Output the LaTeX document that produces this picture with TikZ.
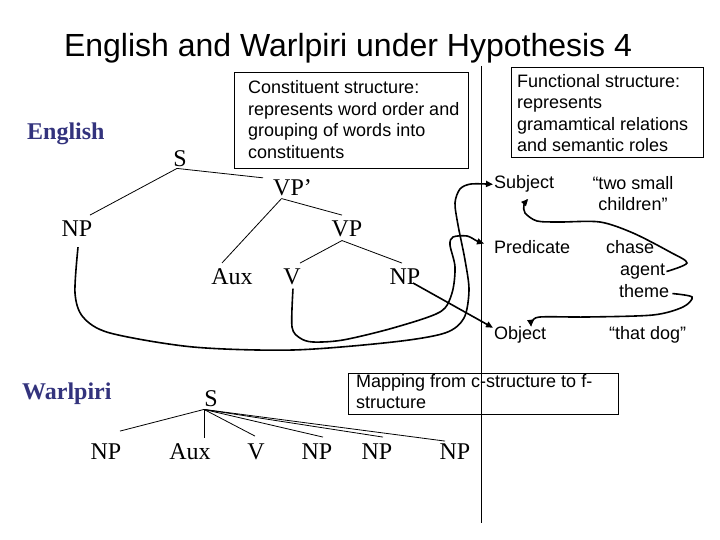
\documentclass[tikz,border=0pt]{standalone}
\usepackage{fontspec}
\setmainfont{Liberation Serif}
\newfontfamily\sansf{Liberation Sans}
\usetikzlibrary{arrows.meta}
\definecolor{langblue}{RGB}{51,51,125}
\begin{document}
\begin{tikzpicture}[x=1bp,y=-1bp,
  tlabel/.style={font=\fontsize{24bp}{28bp}\selectfont, inner sep=1bp, anchor=base},
  lang/.style={font=\bfseries\fontsize{24bp}{28bp}\selectfont, text=langblue, inner sep=0pt, anchor=base west},
  sl/.style={font=\sansf\fontsize{18bp}{21.5bp}\selectfont, inner sep=1bp, anchor=base west},
  btext/.style={font=\sansf\fontsize{18bp}{21.5bp}\selectfont, inner sep=0pt, anchor=north west, align=left},
  boxn/.style={draw, line width=0.9bp, anchor=north west, inner sep=0pt},
  tree/.style={line width=0.8bp},
  link/.style={line width=1.6bp, -{Triangle[length=7bp,width=6bp]}},
]
\fill[white] (0,0) rectangle (720,540);
\useasboundingbox (0,0) rectangle (720,540);

% title
\node[font=\sansf\fontsize{32bp}{36bp}\selectfont, anchor=base, inner sep=0pt] (title) at (348,57) {English and Warlpiri under Hypothesis 4};

% boxes
\node[boxn, minimum width=234bp, minimum height=96bp] (cbox) at (234,72) {};
\node[btext] (ctext) at (248,80.5) {Constituent structure:\\represents word order and\\grouping of words into\\constituents};
\node[boxn, minimum width=192bp, minimum height=90bp] (fbox) at (511,67) {};
\node[btext] (ftext) at (517,74) {Functional structure:\\represents\\gramamtical relations\\and semantic roles};
\node[boxn, minimum width=270bp, minimum height=41bp] (mbox) at (348,373) {};
\node[btext] (mtext) at (356,374) {Mapping from c-structure to f-\\structure};

% divider
\coordinate (divtop) at (481,66);
\coordinate (divbot) at (481,523);
\draw[line width=0.9bp] (divtop) -- (divbot);

% English tree
\node[lang] (eng) at (27,140) {English};
\node[tlabel] (s1) at (180,167) {S};
\node[tlabel, anchor=base west] (vpp) at (272,196) {VP’};
\node[tlabel] (npe) at (77,237) {NP};
\node[tlabel] (vp) at (347,237) {VP};
\node[tlabel] (aux) at (232,285) {Aux};
\node[tlabel] (v) at (292,285) {V};
\node[tlabel] (np2) at (405,285) {NP};

\draw[tree] ([shift={(-3,0)}]s1.south) -- ([shift={(13,-5)}]npe.north);
\draw[tree] ([shift={(-3,0)}]s1.south) -- ([shift={(-9,-1)}]vpp.north west);
\draw[tree] ([shift={(-11,1)}]vpp.south) -- ([shift={(-10,-5)}]aux.north);
\draw[tree] ([shift={(-11,1)}]vpp.south) -- ([shift={(-5,-5)}]vp.north);
\draw[tree] ([shift={(-5,2)}]vp.south) -- ([shift={(8,-5)}]v.north);
\draw[tree] ([shift={(-5,2)}]vp.south) -- ([shift={(-3,-5)}]np2.north);

% Warlpiri tree
\node[lang] (wal) at (22,399) {Warlpiri};
\node[tlabel] (ws) at (211,406) {S};
\node[tlabel] (wnp1) at (106,459) {NP};
\node[tlabel] (waux) at (190,459) {Aux};
\node[tlabel] (wv) at (256,459) {V};
\node[tlabel] (wnp2) at (317,459) {NP};
\node[tlabel] (wnp3) at (377,459) {NP};
\node[tlabel] (wnp4) at (455,459) {NP};
\foreach \n/\dx/\dy in {wnp1/14/-11, waux/14/-4, wv/-1/-6, wnp2/6/-5, wnp3/6/-5, wnp4/-10/-1}
  \draw[tree] ([shift={(-7,2)}]ws.south) -- ([shift={(\dx,\dy)}]\n.north);

% f-structure labels
\node[sl] (subj) at (493,189) {Subject};
\node[sl] (pred) at (493,254) {Predicate};
\node[sl] (obj) at (493,339) {Object};
\node[sl, anchor=north, align=center] (two) at (633,175) {“two small\\children”};
\node[sl] (chase) at (605,254) {chase};
\node[sl] (agent) at (619,275.5) {agent};
\node[sl] (theme) at (618,297) {theme};
\node[sl] (dog) at (608,339) {“that dog”};

% mapping arrows
\draw[link] plot[smooth] coordinates {([shift={(1,9)}]npe.south) (75,293) (83,317) (110,333) (193,347) (293,350) (393,342) (445,333) (464,318) (469,290) (465,260) (458,225) (455,203) (460,189) (471,184) (subj.west)};
\draw[link] plot[smooth] coordinates {([shift={(1,2)}]v.south) (292,327) (300,338) (313,342) (343,340) (393,328) (440,312) (452,293) (455,267) (450,245) (453,237) (467,236) (477,241) ([shift={(-9,-4)}]pred.west)};
\draw[link] ([shift={(8,-2)}]np2.base) -- ([shift={(0,3)}]obj.north west);
\draw[link] plot[smooth] coordinates {(agent.east) (687,263) (670,252) (633,233) (600,222) (560,222) (537,221) (525,213) (524,205) ([shift={(4,5)}]subj.south)};
\draw[link] plot[smooth] coordinates {([shift={(2,3)}]theme.east) (692,297) (683,307) (653,315) (587,317) (540,317) (532,322) ([shift={(11,2)}]obj.north)};
\end{tikzpicture}
\end{document}
